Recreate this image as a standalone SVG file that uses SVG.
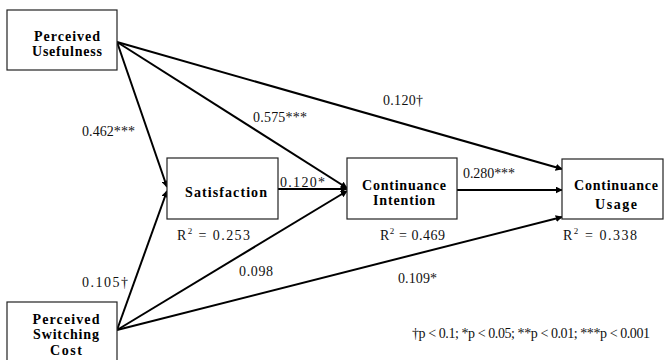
<svg xmlns="http://www.w3.org/2000/svg" width="669" height="360" viewBox="0 0 669 360">
<defs>
<marker id="ah" viewBox="0 0 10 10" refX="9" refY="5" markerWidth="7" markerHeight="7" markerUnits="userSpaceOnUse" orient="auto">
<path d="M0,0 L10,5 L0,10 z" fill="#000"/>
</marker>
<style>
.box{fill:#fff;stroke:#222;stroke-width:1.2}
.nt{font-family:"Liberation Serif","Times New Roman",serif;font-weight:bold;font-size:14px;fill:#000;text-anchor:middle}
.lb{font-family:"Liberation Serif","Times New Roman",serif;font-size:14px;fill:#111}
.ln{stroke:#000;stroke-width:2;fill:none;marker-end:url(#ah)}
</style>
</defs>
<rect width="669" height="360" fill="#fff"/>
<g id="connectors">
<line class="ln" x1="117" y1="42" x2="167" y2="187"/>
<line class="ln" x1="117" y1="42" x2="347" y2="188"/>
<line class="ln" x1="117" y1="42" x2="562" y2="169"/>
<line class="ln" x1="117" y1="330" x2="167" y2="191"/>
<line class="ln" x1="117" y1="330" x2="347" y2="191"/>
<line class="ln" x1="117" y1="330" x2="562" y2="217"/>
<line class="ln" x1="278" y1="189" x2="347" y2="189"/>
<line class="ln" x1="457" y1="190" x2="562" y2="190"/>
</g>
<g id="pu">
<rect class="box" x="7" y="10" width="110" height="60"/>
<text class="nt" x="67" y="41" textLength="66">Perceived</text>
<text class="nt" x="67" y="56" textLength="70">Usefulness</text>
</g>
<g id="psc">
<rect class="box" x="7" y="302" width="110" height="70"/>
<text class="nt" x="66" y="324" textLength="67">Perceived</text>
<text class="nt" x="66" y="339" textLength="66">Switching</text>
<text class="nt" x="66" y="355" textLength="32">Cost</text>
</g>
<g id="sat">
<rect class="box" x="167" y="158" width="111" height="61"/>
<text class="nt" x="226" y="197" textLength="82">Satisfaction</text>
<text class="lb" x="177" y="240" textLength="73">R<tspan font-size="9" dy="-6">2</tspan><tspan dy="6"> = 0.253</tspan></text>
</g>
<g id="ci">
<rect class="box" x="347" y="158" width="110" height="61"/>
<text class="nt" x="404" y="190" textLength="84">Continuance</text>
<text class="nt" x="404" y="205" textLength="62">Intention</text>
<text class="lb" x="380" y="240" textLength="65">R<tspan font-size="9" dy="-6">2</tspan><tspan dy="6"> = 0.469</tspan></text>
</g>
<g id="cu">
<rect class="box" x="562" y="159" width="101" height="60"/>
<text class="nt" x="616" y="190" textLength="84">Continuance</text>
<text class="nt" x="616" y="209" textLength="42">Usage</text>
<text class="lb" x="563" y="240" textLength="74">R<tspan font-size="9" dy="-6">2</tspan><tspan dy="6"> = 0.338</tspan></text>
</g>
<g id="labels">
<text class="lb" x="82" y="136" textLength="53">0.462***</text>
<text class="lb" x="253" y="122" textLength="54">0.575***</text>
<text class="lb" x="383" y="105" textLength="40">0.120†</text>
<text class="lb" x="280" y="187" textLength="45">0.120*</text>
<text class="lb" x="463" y="178" textLength="52">0.280***</text>
<text class="lb" x="239" y="276" textLength="34">0.098</text>
<text class="lb" x="398" y="283" textLength="39">0.109*</text>
<text class="lb" x="82" y="287" textLength="46">0.105†</text>
<text class="lb" x="412" y="338" textLength="238">†p &lt; 0.1; *p &lt; 0.05; **p &lt; 0.01; ***p &lt; 0.001</text>
</g>
</svg>
